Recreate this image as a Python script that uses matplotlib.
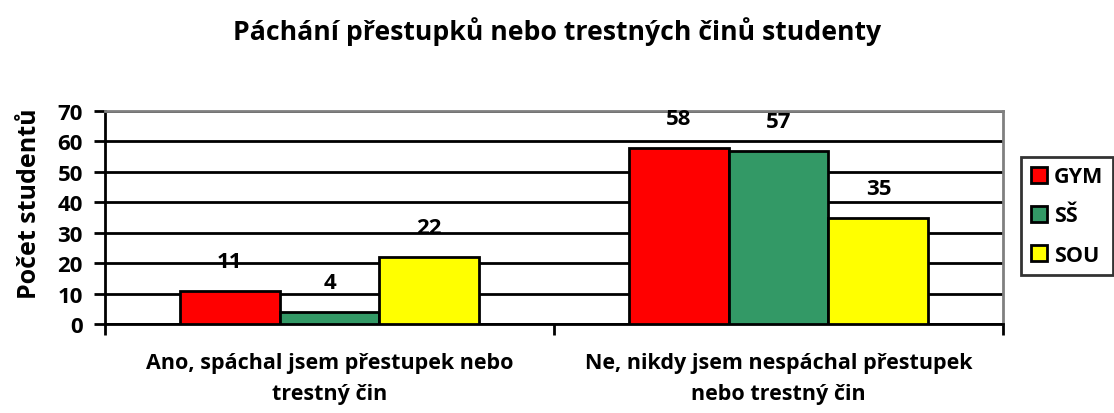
import matplotlib.pyplot as plt
import numpy as np

plt.rcParams['font.family'] = ['Open Sans', 'DejaVu Sans']
plt.rcParams['font.weight'] = 'bold'

# data
categories = ['Ano, spáchal jsem přestupek nebo\ntrestný čin',
              'Ne, nikdy jsem nespáchal přestupek\nnebo trestný čin']
series = ['GYM', 'SŠ', 'SOU']
gym = [11, 58]
ss = [4, 57]
sou = [22, 35]
colors = ['#ff0000', '#339966', '#ffff00']

fig = plt.figure(figsize=(11.14, 4.14), dpi=100)
ax = fig.add_axes([105 / 1114, 1 - 325 / 414, (1003 - 105) / 1114, (325 - 112) / 414])

x = np.arange(len(categories))
w = 0.2225
for i, (name, vals) in enumerate(zip(series, [gym, ss, sou])):
    pos = x + (i - 1) * w
    ax.bar(pos, vals, width=w, color=colors[i], edgecolor='black', linewidth=2,
           label=name, zorder=3)
    for p, v in zip(pos, vals):
        ax.annotate(str(v), (p, v), textcoords='offset points', xytext=(0, 21),
                    ha='center', va='center', fontsize=16, fontweight='bold')

ax.set_xlim(-0.5, 1.5)
ax.set_ylim(0, 70)
ax.set_yticks(range(0, 71, 10))
ax.set_yticklabels([str(v) for v in range(0, 71, 10)], fontsize=16, fontweight='bold')
ax.yaxis.grid(True, color='black', linewidth=2, zorder=0)
ax.set_axisbelow(True)

ax.set_xticks([-0.5, 0.5, 1.5])
ax.set_xticklabels([])
ax.set_xticks(x, minor=True)
ax.set_xticklabels(categories, minor=True, fontsize=15.5, fontweight='bold', linespacing=1.65)
ax.tick_params(axis='x', which='minor', length=0, pad=20)
ax.tick_params(axis='x', which='major', length=8, width=2)
ax.tick_params(axis='y', length=8, width=2, pad=8)

for s in ['top', 'right']:
    ax.spines[s].set_color('#808080')
    ax.spines[s].set_linewidth(2)
for s in ['left', 'bottom']:
    ax.spines[s].set_color('black')
    ax.spines[s].set_linewidth(2)

fig.text(30 / 1114, 1 - 204 / 414, 'Počet studentů', rotation=90,
         ha='center', va='center', fontsize=18, fontweight='bold')
fig.text(557 / 1114, 1 - 32 / 414, 'Páchání přestupků nebo trestných činů studenty',
         ha='center', va='center', fontsize=19.2, fontweight='bold')

leg = fig.legend(loc='center', bbox_to_anchor=(1067 / 1114, 1 - 217 / 414),
                 fontsize=15.5, frameon=True, fancybox=False, edgecolor='black',
                 handlelength=0.75, handleheight=0.75, handletextpad=0.3,
                 labelspacing=0.85, borderpad=0.45, borderaxespad=0)
leg.get_frame().set_linewidth(2)
for t in leg.get_texts():
    t.set_fontweight('bold')

fig.savefig('out.png', dpi=100)
